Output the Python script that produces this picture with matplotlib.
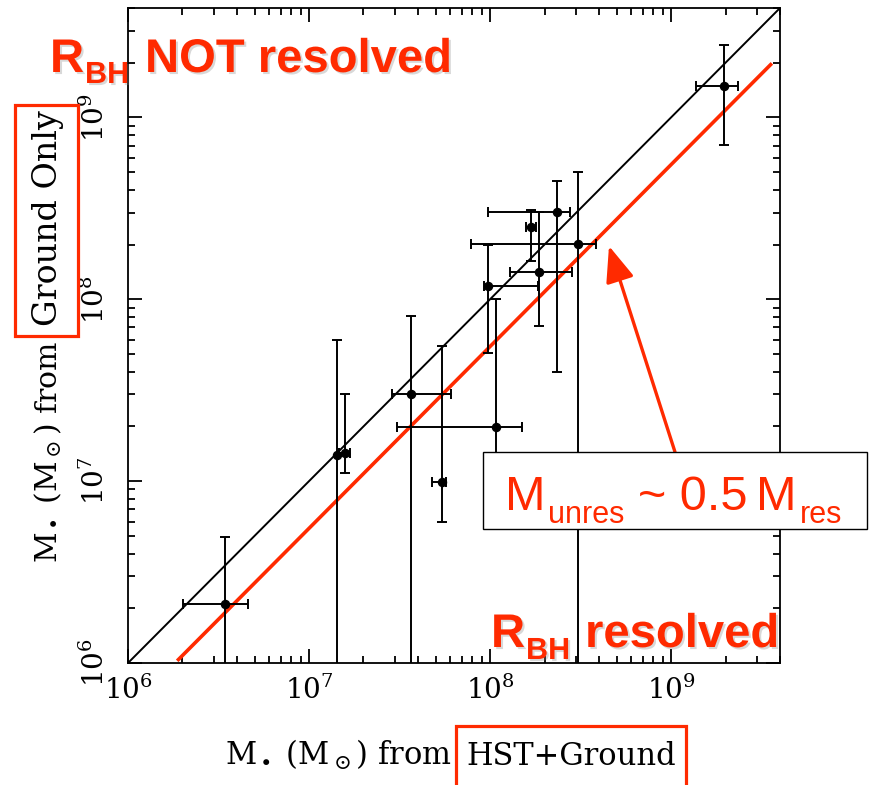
import numpy as np
import matplotlib
matplotlib.use("Agg")
import matplotlib.pyplot as plt
from matplotlib.patches import Rectangle
from matplotlib import patheffects as pe

# Black-hole masses (solar masses): HST+ground estimate vs ground-only estimate
m_hst = [3.42e6, 1.42e7, 1.59e7, 3.67e7, 5.45e7, 9.75e7, 1.08e8, 1.68e8, 1.86e8, 2.34e8, 3.05e8, 1.97e9]
m_hst_lo = [2.01e6, np.nan, 1.47e7, 2.88e7, 4.79e7, 9.27e7, 3.08e7, 1.58e8, 1.29e8, 9.75e7, 7.85e7, 1.38e9]
m_hst_hi = [4.58e6, np.nan, 1.69e7, 6.09e7, 5.73e7, 1.84e8, 1.50e8, 1.79e8, 2.83e8, 2.76e8, 3.84e8, 2.35e9]

m_gnd = [2.11e6, 1.40e7, 1.42e7, 3.03e7, 9.93e6, 1.19e8, 1.99e7, 2.49e8, 1.41e8, 3.01e8, 2.01e8, 1.49e9]
# lower bounds of 1e5 are unconstrained (run off the bottom of the plot)
m_gnd_lo = [1e5, 1e5, 1.11e7, 1e5, 5.98e6, 5.04e7, 7.0e6, 1.62e8, 7.10e7, 3.96e7, 1e5, 7.05e8]
m_gnd_hi = [4.94e6, 5.94e7, 3.03e7, 8.05e7, 5.51e7, 1.99e8, 1.0e8, 3.09e8, 3.01e8, 4.47e8, 5.01e8, 2.51e9]

# one-to-one relation and the offset relation for unresolved spheres of influence
one_to_one = [1e6, 4e9]
unres_ratio = 0.55
unres_range = [1.9e6, 3.55e9]

axis_limits = (1e6, 4e9)
tick_values = [1e6, 1e7, 1e8, 1e9]
tick_labels = [r"$10^{6}$", r"$10^{7}$", r"$10^{8}$", r"$10^{9}$"]

RED = "#ff2a00"
W, H = 870, 785

plt.rcParams["mathtext.fontset"] = "dejavuserif"

fig = plt.figure(figsize=(W / 100, H / 100), dpi=100)


def fx(px):
    return px / W


def fy(py):
    return 1 - py / H


ax = fig.add_axes([fx(128), fy(663), (780 - 128) / W, (663 - 8) / H])
ax.set_xscale("log")
ax.set_yscale("log")
ax.set_xlim(*axis_limits)
ax.set_ylim(*axis_limits)

ax.plot(one_to_one, one_to_one, color="black", lw=1.4, zorder=2)
xr = np.array(unres_range)
ax.plot(xr, unres_ratio * xr, color=RED, lw=2.6, zorder=3)

for x, xl, xh, y, yl, yh in zip(m_hst, m_hst_lo, m_hst_hi, m_gnd, m_gnd_lo, m_gnd_hi):
    xerr = None if np.isnan(xl) else [[x - xl], [xh - x]]
    yerr = [[y - yl], [yh - y]]
    ax.errorbar([x], [y], xerr=xerr, yerr=yerr, fmt="o", color="black",
                ms=5.8, elinewidth=1.4, capsize=3.8, capthick=1.4, zorder=4)

for s in ax.spines.values():
    s.set_linewidth(1.3)

ax.set_xticks(tick_values, tick_labels)
ax.set_yticks(tick_values, tick_labels)
ax.tick_params(which="both", direction="in", top=True, right=True, width=1.3)
ax.tick_params(which="major", length=10)
ax.tick_params(which="minor", length=5)
ax.tick_params(axis="x", labelsize=20, pad=9)
ax.tick_params(axis="y", labelsize=20, pad=13, labelrotation=90)
for lab in ax.get_yticklabels():
    lab.set_va("center")
ax.xaxis.set_minor_formatter(matplotlib.ticker.NullFormatter())
ax.yaxis.set_minor_formatter(matplotlib.ticker.NullFormatter())

# axis titles, split so the highlighted part can be boxed
fig.text(fx(452), fy(765), r"M$_\bullet$ (M$_\odot$) from", family="DejaVu Serif",
         fontsize=22, ha="right", va="baseline")
fig.text(fx(466), fy(765), "HST+Ground", family="DejaVu Serif",
         fontsize=22, ha="left", va="baseline")
fig.text(fx(57), fy(341), r"M$_\bullet$ (M$_\odot$) from", family="DejaVu Serif",
         fontsize=21.5, rotation=90, rotation_mode="anchor",
         ha="right", va="baseline")
fig.text(fx(57), fy(326), "Ground Only", family="DejaVu Serif",
         fontsize=24, rotation=90, rotation_mode="anchor", ha="left", va="baseline")

# highlight boxes
fig.add_artist(Rectangle((fx(15), fy(336)), (78 - 15) / W, (336 - 105) / H,
                         transform=fig.transFigure, fill=False, edgecolor=RED, lw=2.3))
fig.add_artist(Rectangle((fx(456), fy(800)), (686 - 456) / W, (800 - 726) / H,
                         transform=fig.transFigure, fill=False, edgecolor=RED, lw=2.3,
                         clip_on=False))

# region annotations
shadow = [pe.withSimplePatchShadow(offset=(1.5, -1.5), shadow_rgbFace="0.5", alpha=0.3)]
bold = dict(family="Liberation Sans", weight="bold", color=RED, va="baseline",
            ha="left", path_effects=shadow, zorder=12)
fig.text(fx(50), fy(72), "R", fontsize=34, **bold)
fig.text(fx(85), fy(83), "BH", fontsize=22, **bold)
fig.text(fx(145), fy(72), "NOT resolved", fontsize=34, **bold)
fig.text(fx(491), fy(647), "R", fontsize=34, **bold)
fig.text(fx(526), fy(659), "BH", fontsize=22, **bold)
fig.text(fx(585), fy(647), "resolved", fontsize=34, **bold)

# callout box with arrow pointing at the offset relation
ax.annotate("", xy=(fx(609), fy(246)), xycoords="figure fraction",
            xytext=(fx(675), fy(452)), textcoords="figure fraction",
            arrowprops=dict(arrowstyle="-|>,head_length=1.0,head_width=0.4",
                            mutation_scale=22, color=RED, lw=2.4,
                            shrinkA=0, shrinkB=0),
            annotation_clip=False, zorder=9)
fig.add_artist(Rectangle((fx(483), fy(529)), (867 - 483) / W, (529 - 452) / H,
                         transform=fig.transFigure, facecolor="white",
                         edgecolor="black", lw=1.0, zorder=10))
reg = dict(family="Liberation Sans", color=RED, va="baseline", ha="left", zorder=11)
fig.text(fx(505), fy(510), "M", fontsize=35, **reg)
fig.text(fx(548), fy(523), "unres", fontsize=22, **reg)
fig.text(fx(638), fy(510), "~ 0.5", fontsize=35, **reg)
fig.text(fx(756), fy(510), "M", fontsize=35, **reg)
fig.text(fx(800), fy(523), "res", fontsize=22, **reg)

fig.savefig("out.png", dpi=100)
